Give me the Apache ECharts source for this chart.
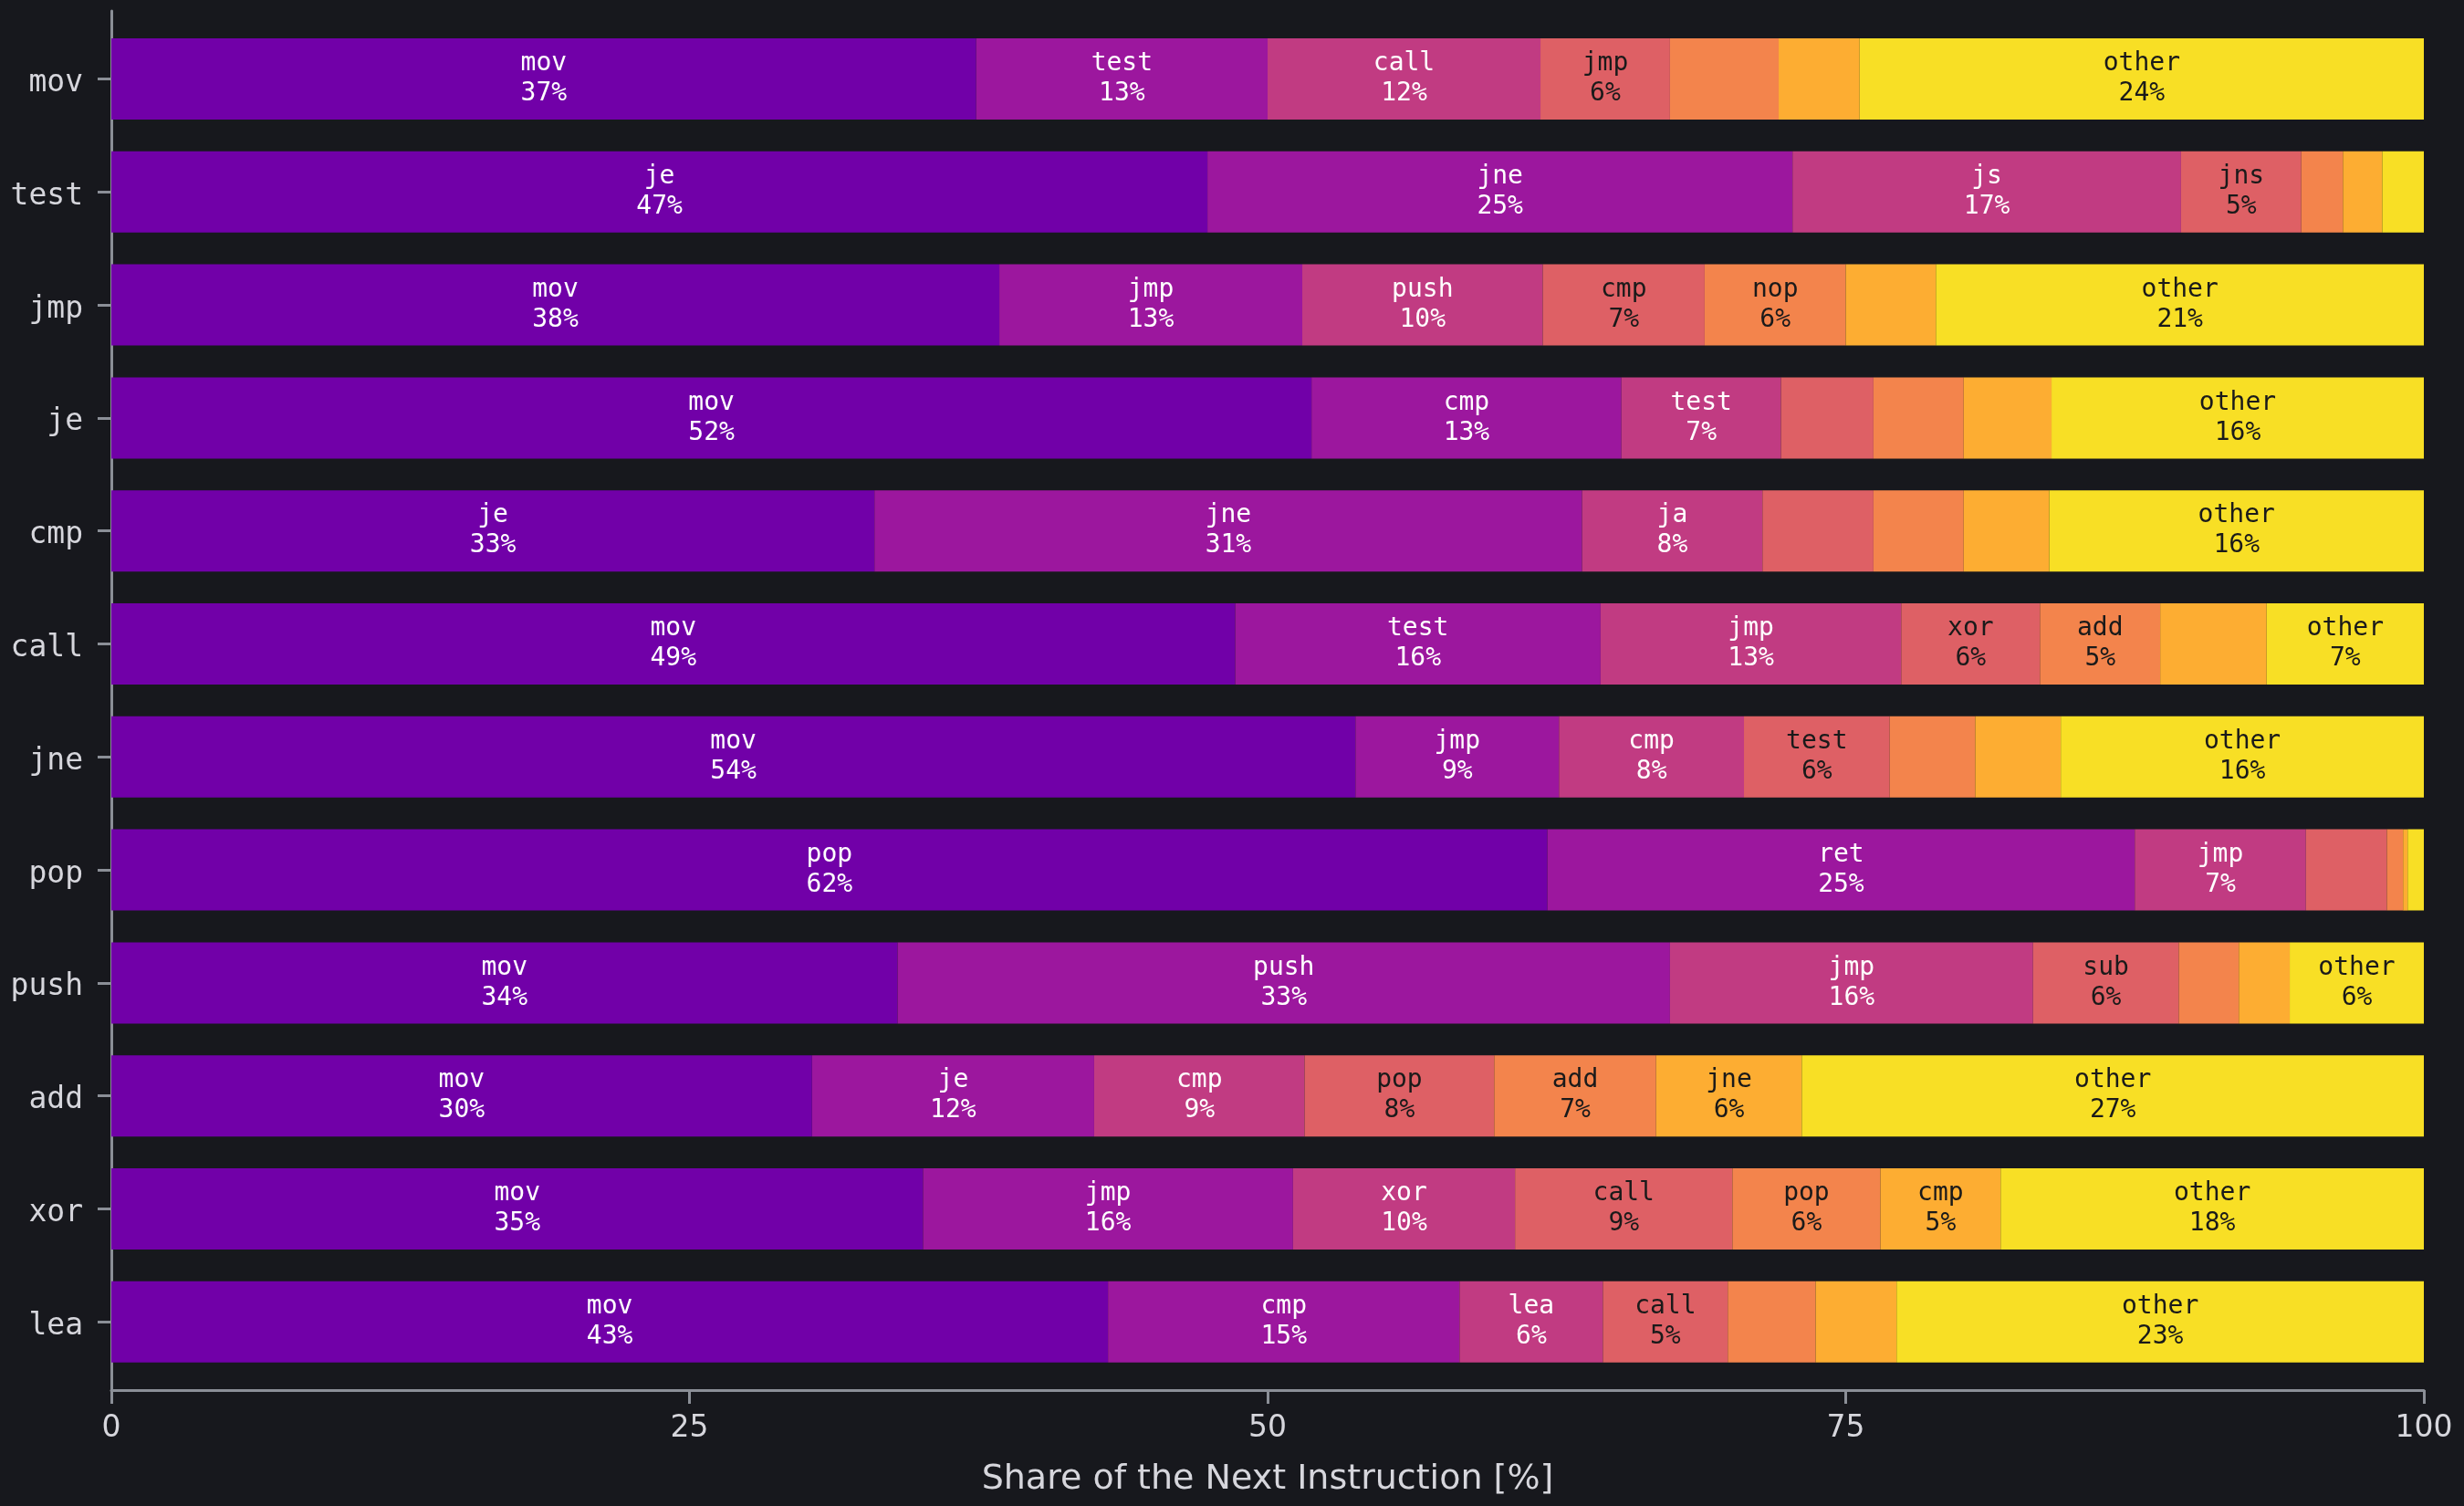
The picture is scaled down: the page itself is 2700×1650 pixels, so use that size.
<!DOCTYPE html>
<html>
<head>
<meta charset="utf-8">
<title>Next instruction share</title>
<script src="https://cdn.jsdelivr.net/npm/echarts@6/dist/echarts.min.js"></script>
<style>
  html, body { margin: 0; padding: 0; background: #17181d; }
  #main { width: 2700px; height: 1650px; }
</style>
</head>
<body>
<div id="main"></div>
<script>
// 每条横条对应的前一条指令
var categories = ['mov', 'test', 'jmp', 'je', 'cmp', 'call', 'jne', 'pop', 'push', 'add', 'xor', 'lea'];

// 各排名位置的占比 [%]
var share1 = [37.4, 47.4, 38.4, 51.9, 33.0, 48.6, 53.8, 62.1, 34.0, 30.3, 35.1, 43.1];
var share2 = [12.6, 25.3, 13.1, 13.4, 30.6, 15.8, 8.8, 25.4, 33.4, 12.2, 16.0, 15.2];
var share3 = [11.8, 16.8, 10.4, 6.9, 7.8, 13.0, 8.0, 7.4, 15.7, 9.1, 9.6, 6.2];
var share4 = [5.6, 5.2, 7.0, 4.0, 4.8, 6.0, 6.3, 3.5, 6.3, 8.2, 9.4, 5.4];
var share5 = [4.7, 1.8, 6.1, 3.9, 3.9, 5.2, 3.7, 0.7, 2.6, 7.0, 6.4, 3.8];
var share6 = [3.5, 1.7, 3.9, 3.8, 3.7, 4.6, 3.7, 0.2, 2.2, 6.3, 5.2, 3.5];
var share7 = [24.4, 1.8, 21.1, 16.1, 16.2, 6.8, 15.7, 0.7, 5.8, 26.9, 18.3, 22.8];

// 各段的下一条指令名（空字符串 = 不标注）
var next1 = ['mov', 'je', 'mov', 'mov', 'je', 'mov', 'mov', 'pop', 'mov', 'mov', 'mov', 'mov'];
var next2 = ['test', 'jne', 'jmp', 'cmp', 'jne', 'test', 'jmp', 'ret', 'push', 'je', 'jmp', 'cmp'];
var next3 = ['call', 'js', 'push', 'test', 'ja', 'jmp', 'cmp', 'jmp', 'jmp', 'cmp', 'xor', 'lea'];
var next4 = ['jmp', 'jns', 'cmp', '', '', 'xor', 'test', '', 'sub', 'pop', 'call', 'call'];
var next5 = ['', '', 'nop', '', '', 'add', '', '', '', 'add', 'pop', ''];
var next6 = ['', '', '', '', '', '', '', '', '', 'jne', 'cmp', ''];
var next7 = ['other', '', 'other', 'other', 'other', 'other', 'other', '', 'other', 'other', 'other', 'other'];

var xTicks = [0, 25, 50, 75, 100];

var colors = ['#7100a8', '#9c179e', '#c13b82', '#de6065', '#f3844c', '#fdad32', '#f8df25'];
var textColors = ['#ffffff', '#ffffff', '#ffffff', '#1a1a1a', '#1a1a1a', '#1a1a1a', '#1a1a1a'];

window.addEventListener('load', function () {
    initChart();
});

function initChart() {
    var myChart = echarts.init(document.getElementById('main'));
    var shares = [share1, share2, share3, share4, share5, share6, share7];
    var names = [next1, next2, next3, next4, next5, next6, next7];
    var axisColor = '#8b8f97';
    var tickText = '#d6d6dc';

    var series = [];
    for (var k = 0; k < shares.length; k++) {
        (function (k) {
            series.push({
                type: 'bar',
                stack: 'total',
                xAxisIndex: 0,
                yAxisIndex: 0,
                barWidth: 89,
                data: shares[k],
                itemStyle: { color: colors[k] },
                silent: true,
                label: {
                    show: true,
                    position: 'inside',
                    fontFamily: 'DejaVu Sans Mono',
                    fontSize: 28,
                    lineHeight: 33,
                    color: textColors[k],
                    formatter: function (p) {
                        var n = names[k][p.dataIndex];
                        if (!n) return '';
                        return n + '\n' + Math.round(p.value) + '%';
                    }
                }
            });
        })(k);
    }

    var option = {
        backgroundColor: '#17181d',
        animation: false,
        grid: [
            { left: 122, right: 44, top: 24.6, height: 1485.6 },
            { left: 122, right: 44, top: 12, height: 1511 }
        ],
        xAxis: [
            { type: 'value', gridIndex: 0, min: 0, max: 100, show: false },
            {
                type: 'value', gridIndex: 1, min: 0, max: 100, interval: 25,
                axisLine: { show: true, lineStyle: { color: axisColor, width: 3 } },
                axisTick: { show: true, length: 15, lineStyle: { color: axisColor, width: 3 } },
                splitLine: { show: false },
                axisLabel: {
                    color: tickText, fontFamily: 'DejaVu Sans', fontSize: 33, margin: 26,
                    formatter: function (v) { return xTicks.indexOf(v) >= 0 ? String(v) : ''; }
                },
                name: 'Share of the Next Instruction [%]',
                nameLocation: 'middle',
                nameGap: 79,
                nameTextStyle: { color: tickText, fontFamily: 'DejaVu Sans', fontSize: 38 }
            }
        ],
        yAxis: [
            {
                type: 'category', gridIndex: 0, data: categories, inverse: true,
                axisLine: { show: false },
                axisTick: { show: true, alignWithLabel: true, length: 15, lineStyle: { color: axisColor, width: 3 } },
                axisLabel: {
                    margin: 31,
                    formatter: function (v) { return '{c|' + v + '}'; },
                    rich: {
                        c: {
                            color: tickText, fontFamily: 'DejaVu Sans Mono', fontSize: 33,
                            padding: [10, 0, 0, 0]
                        }
                    }
                }
            },
            {
                type: 'value', gridIndex: 1, min: 0, max: 1,
                axisLine: { show: true, lineStyle: { color: axisColor, width: 3 } },
                axisTick: { show: false },
                axisLabel: { show: false },
                splitLine: { show: false }
            }
        ],
        series: series
    };
    myChart.setOption(option);
    window.addEventListener('resize', () => {
        myChart.resize()
    });
}
</script>
</body>
</html>
